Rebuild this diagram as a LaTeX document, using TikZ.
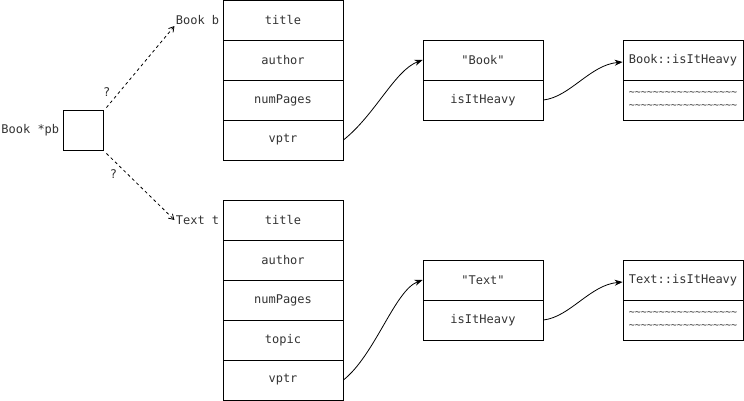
\documentclass[tikz,border=0pt]{standalone}
\usepackage{fontspec}
\setmonofont{DejaVu Sans Mono}
\usetikzlibrary{arrows.meta,positioning}
\tikzset{
  field/.style={draw,rectangle,minimum width=120pt,minimum height=40pt,inner sep=0pt,font=\ttfamily\fontsize{12}{14}\selectfont,text=black!80},
  lbl/.style={inner sep=1pt,font=\ttfamily\fontsize{12}{14}\selectfont,text=black!80},
  link/.style={-{Stealth[length=8pt,width=6pt]},line width=0.8pt},
  maybe/.style={dashed,-{Straight Barb[length=5pt,width=6pt]},line width=0.8pt}
}
\begin{document}
\begin{tikzpicture}[x=1pt,y=-1pt,line width=0.8pt]
\useasboundingbox (0,0) rectangle (744,401);
% pointer
\node[draw,minimum width=40pt,minimum height=40pt,inner sep=0pt] (pb) at (83,130) {};
\node[lbl,left=2pt of pb] (pblbl) {Book *pb};
% object b
\node[field] (b1) at (283,20) {title};
\node[field] (b2) at (283,60) {author};
\node[field] (b3) at (283,100) {numPages};
\node[field] (b4) at (283,140) {vptr};
\node[lbl,left=2pt of b1] (blbl) {Book b};
% object t
\node[field] (t1) at (283,220) {title};
\node[field] (t2) at (283,260) {author};
\node[field] (t3) at (283,300) {numPages};
\node[field] (t4) at (283,340) {topic};
\node[field] (t5) at (283,380) {vptr};
\node[lbl,left=2pt of t1] (tlbl) {Text t};
% vtables
\node[field] (vb1) at (483,60) {"Book"};
\node[field] (vb2) at (483,100) {isItHeavy};
\node[field] (vt1) at (483,280) {"Text"};
\node[field] (vt2) at (483,320) {isItHeavy};
% functions
\node[field] (fb1) at (683,60) {Book::isItHeavy};
\node[field,font=\ttfamily\fontsize{10}{13}\selectfont,align=center] (fb2) at (683,100) {\string~\string~\string~\string~\string~\string~\string~\string~\string~\string~\string~\string~\string~\string~\string~\string~\string~\string~\\\string~\string~\string~\string~\string~\string~\string~\string~\string~\string~\string~\string~\string~\string~\string~\string~\string~\string~};
\node[field] (ft1) at (683,280) {Text::isItHeavy};
\node[field,font=\ttfamily\fontsize{10}{13}\selectfont,align=center] (ft2) at (683,320) {\string~\string~\string~\string~\string~\string~\string~\string~\string~\string~\string~\string~\string~\string~\string~\string~\string~\string~\\\string~\string~\string~\string~\string~\string~\string~\string~\string~\string~\string~\string~\string~\string~\string~\string~\string~\string~};
% pointer targets
\draw[maybe] ([shift={(3,-2)}]pb.north east) -- (blbl.south west)
  node[lbl,pos=0.1,above left=2pt] (q1) {?};
\draw[maybe] ([shift={(3,3)}]pb.south east) -- (tlbl.west)
  node[lbl,pos=0.2,below left=2pt] (q2) {?};
% vptr links
\draw[link] (b4.east) .. controls (375,115) and (395,70) .. (vb1.west);
\draw[link] (t5.east) .. controls (375,355) and (395,290) .. (vt1.west);
\draw[link] (vb2.east) .. controls (570,97) and (590,65) .. ([yshift=-2]fb1.west);
\draw[link] (vt2.east) .. controls (570,317) and (590,285) .. ([yshift=-2]ft1.west);
\end{tikzpicture}
\end{document}
